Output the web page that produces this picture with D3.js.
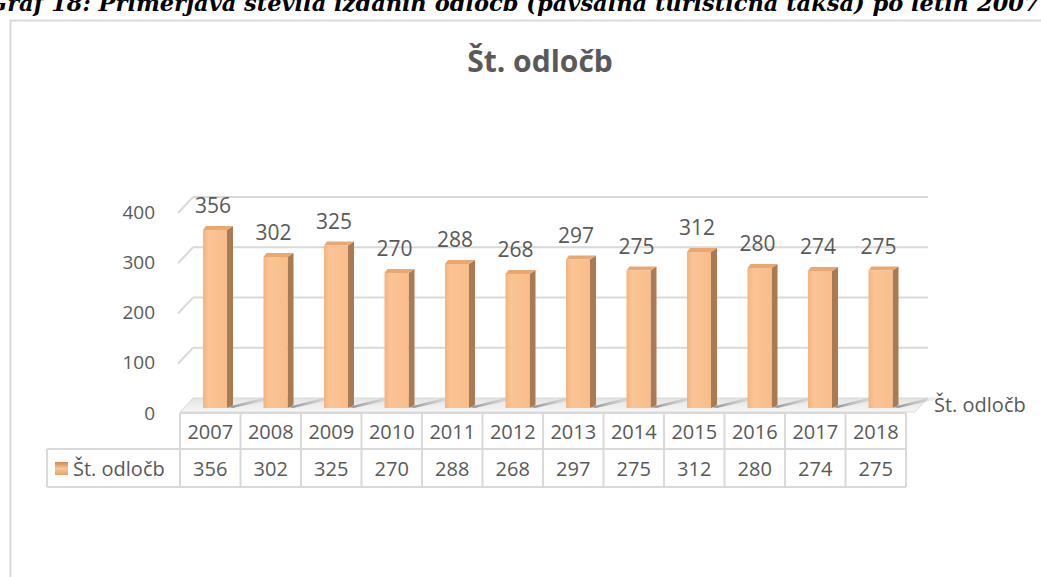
<!DOCTYPE html>
<html>
<head>
<meta charset="utf-8">
<script src="https://cdn.jsdelivr.net/npm/d3@7"></script>
<style>
body { margin: 0; background: #fff; overflow: hidden; }
text { font-family: "Open Sans", sans-serif; fill: #595959; }
</style>
</head>
<body>
<script>
// podatki
var years = ["2007", "2008", "2009", "2010", "2011", "2012", "2013", "2014", "2015", "2016", "2017", "2018"];
var counts = [356, 302, 325, 270, 288, 268, 297, 275, 312, 280, 274, 275];
var ticks = [0, 100, 200, 300, 400];
var seriesName = "Št. odločb";
var caption = "Graf 18: Primerjava števila izdanih odločb (pavšalna turistična taksa) po letih 2007 - 2018";

var W = 1041, H = 577;
var svg = d3.select("body").append("svg").attr("width", W).attr("height", H);
var defs = svg.append("defs");

// gradienti za stolpce
var gFront = defs.append("linearGradient").attr("id", "front").attr("x1", 0).attr("x2", 1);
gFront.append("stop").attr("offset", 0).attr("stop-color", "#f3b47f");
gFront.append("stop").attr("offset", 0.25).attr("stop-color", "#fbc495");
gFront.append("stop").attr("offset", 1).attr("stop-color", "#f8bd8a");
var gFloor = defs.append("linearGradient").attr("id", "floor").attr("x1", 0).attr("x2", 0).attr("y1", 0).attr("y2", 1);
gFloor.append("stop").attr("offset", 0).attr("stop-color", "#e3e3e3");
gFloor.append("stop").attr("offset", 1).attr("stop-color", "#f7f7f7");
var gShadow = defs.append("linearGradient").attr("id", "shadow").attr("x1", 0).attr("x2", 1);
gShadow.append("stop").attr("offset", 0).attr("stop-color", "#6f6f6f").attr("stop-opacity", 0.8);
gShadow.append("stop").attr("offset", 1).attr("stop-color", "#bfbfbf").attr("stop-opacity", 0);
var gKey = defs.append("linearGradient").attr("id", "key").attr("x1", 0).attr("x2", 0).attr("y1", 0).attr("y2", 1);
gKey.append("stop").attr("offset", 0).attr("stop-color", "#c98a57");
gKey.append("stop").attr("offset", 0.5).attr("stop-color", "#fbc495");
gKey.append("stop").attr("offset", 1).attr("stop-color", "#e0a470");

// napis nad grafom (v izvirniku odrezan na vrhu)
svg.append("text").attr("x", -12).attr("y", 11)
	.style("font-family", "'DejaVu Serif', serif").style("font-style", "italic").style("font-weight", "bold")
	.style("font-size", "22.5px").style("fill", "#000").text(caption);

// okvir
svg.append("rect").attr("x", 10.5).attr("y", 20.5).attr("width", 1100).attr("height", 700)
	.attr("fill", "#fff").attr("stroke", "#d9d9d9").attr("stroke-width", 2);

svg.append("text").attr("x", 540).attr("y", 72).attr("text-anchor", "middle")
	.style("font-size", "30px").style("font-weight", "bold").text(seriesName);

// lestvice
var x = d3.scaleBand().domain(years).range([180, 906]);
var yBack = d3.scaleLinear().domain([0, 400]).range([398, 197]);
var yBar = d3.scaleLinear().domain([0, 400]).range([408, 208]);
var depth = { dx: 13, dy: -14 };
var left = 180, right = 915;

// mreža na zadnji in stranski steni
var grid = svg.append("g");
ticks.filter(function(t) { return t > 0; }).forEach(function(t) {
	var yy = yBack(t);
	grid.append("line").attr("x1", left - 2).attr("y1", yy - depth.dy + 2).attr("x2", left + depth.dx).attr("y2", yy)
		.attr("stroke", "#d9d9d9").attr("stroke-width", 2);
	grid.append("line").attr("x1", left + depth.dx).attr("y1", yy).attr("x2", right + depth.dx).attr("y2", yy)
		.attr("stroke", "#d9d9d9").attr("stroke-width", 2);
});
svg.append("g").selectAll("text").data(ticks).enter().append("text")
	.attr("x", 155).attr("y", function(d) { return yBack(d) + 15; })
	.attr("dy", "0.35em").attr("text-anchor", "end").style("font-size", "19px")
	.text(function(d) { return d; });

// tla
var fy = yBack(0);
svg.append("polygon")
	.attr("points", [[left, fy + 14], [left + depth.dx, fy], [right + depth.dx, fy], [right, fy + 14]].join(" "))
	.attr("fill", "url(#floor)").attr("stroke", "#d9d9d9").attr("stroke-width", 1);

// sence stolpcev na tleh
var bw = 24, side = 6, cap = 4, off = 23;
svg.append("g").selectAll("polygon").data(counts).enter().append("polygon")
	.attr("points", function(d, i) {
		var x0 = x(years[i]) + off;
		var b = yBar(0);
		return [[x0 + bw, b - 1], [x0 + bw + 40, b - 11], [x0 + bw + 54, b - 11], [x0 + bw + side, b]].join(" ");
	})
	.attr("fill", "url(#shadow)");

// stolpci
var bars = svg.append("g").selectAll("g").data(counts).enter().append("g");
bars.append("polygon")
	.attr("points", function(d, i) {
		var x0 = x(years[i]) + off + bw, t = yBar(d), b = yBar(0);
		return [[x0, t], [x0 + side, t - cap], [x0 + side, b - 3], [x0, b]].join(" ");
	})
	.attr("fill", "#a97b55");
bars.append("polygon")
	.attr("points", function(d, i) {
		var x0 = x(years[i]) + off, t = yBar(d);
		return [[x0, t], [x0 + 3, t - cap], [x0 + bw + side, t - cap], [x0 + bw, t]].join(" ");
	})
	.attr("fill", "#e9a772");
bars.append("rect")
	.attr("x", function(d, i) { return x(years[i]) + off; })
	.attr("y", function(d) { return yBar(d); })
	.attr("width", bw)
	.attr("height", function(d) { return yBar(0) - yBar(d); })
	.attr("fill", "url(#front)");

// oznake vrednosti
svg.append("g").selectAll("text").data(counts).enter().append("text")
	.attr("x", function(d, i) { return x(years[i]) + off + bw / 2 - 2; })
	.attr("y", function(d) { return yBar(d) - 17; })
	.attr("text-anchor", "middle").style("font-size", "21px")
	.text(function(d) { return d; });

svg.append("text").attr("x", 934).attr("y", 412).style("font-size", "20px").text(seriesName);

// tabela s podatki
var rowTop = 413, rowMid = 449, rowBot = 487, legLeft = 47;
var tab = svg.append("g").attr("stroke", "#d9d9d9").attr("stroke-width", 2);
tab.append("line").attr("x1", 180).attr("x2", 906).attr("y1", rowTop).attr("y2", rowTop);
tab.append("line").attr("x1", legLeft).attr("x2", 906).attr("y1", rowMid).attr("y2", rowMid);
tab.append("line").attr("x1", legLeft).attr("x2", 906).attr("y1", rowBot).attr("y2", rowBot);
tab.append("line").attr("x1", legLeft).attr("x2", legLeft).attr("y1", rowMid).attr("y2", rowBot);
tab.selectAll("line.v").data(years.concat(["end"])).enter().append("line")
	.attr("x1", function(d, i) { return 180 + i * x.bandwidth(); })
	.attr("x2", function(d, i) { return 180 + i * x.bandwidth(); })
	.attr("y1", rowTop).attr("y2", rowBot);

svg.append("g").selectAll("text").data(years).enter().append("text")
	.attr("x", function(d) { return x(d) + x.bandwidth() / 2; })
	.attr("y", (rowTop + rowMid) / 2 + 1).attr("dy", "0.35em")
	.attr("text-anchor", "middle").style("font-size", "20px").text(function(d) { return d; });
svg.append("g").selectAll("text").data(counts).enter().append("text")
	.attr("x", function(d, i) { return x(years[i]) + x.bandwidth() / 2; })
	.attr("y", (rowMid + rowBot) / 2 + 1).attr("dy", "0.35em")
	.attr("text-anchor", "middle").style("font-size", "20px").text(function(d) { return d; });

svg.append("rect").attr("x", 55).attr("y", 462).attr("width", 13).attr("height", 13).attr("fill", "url(#key)");
svg.append("text").attr("x", 73).attr("y", (rowMid + rowBot) / 2 + 1).attr("dy", "0.35em")
	.style("font-size", "20px").text(seriesName);
</script>
</body>
</html>
